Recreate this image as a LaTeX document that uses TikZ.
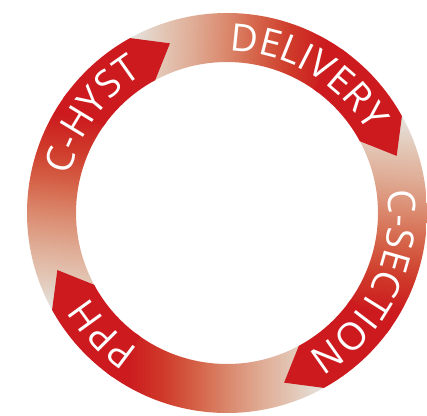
\documentclass[tikz,border=0pt]{standalone}
\usepackage{fontspec}
\setmainfont{Open Sans}
\usetikzlibrary{decorations.text}
\definecolor{ringred}{HTML}{CC1A1E}
\definecolor{ringa}{HTML}{E4E4E0}
\definecolor{ringb}{HTML}{E3C8B8}
\definecolor{ringc}{HTML}{E0B09A}
\definecolor{ringd}{HTML}{DB8D72}
\definecolor{ringe}{HTML}{D5654A}
\definecolor{ringf}{HTML}{CF3A2A}
\pgfdeclarehorizontalshading{ringgrad}{100bp}{color(0bp)=(ringa); color(40.2bp)=(ringa); color(43.2bp)=(ringb); color(46bp)=(ringc); color(49.4bp)=(ringd); color(52.7bp)=(ringe); color(56.3bp)=(ringf); color(59.8bp)=(ringred); color(100bp)=(ringred)}
\newcommand{\ringfont}{\fontsize{38}{38}\selectfont}
\tikzset{
  ringlabel/.style={decorate, decoration={text along path, text align={align=center},
    text={|\ringfont\color{white}|#1}}},
  headfill/.style={fill=ringred, draw=none},
}
\begin{document}
\begin{tikzpicture}[x=1pt,y=1pt]
\useasboundingbox (0,0) rectangle (427,415);
\begin{scope}[shift={(227,202)}]
  % gradient bodies
  \foreach \a/\dir in {29/-3,-61/-95,-151/-180,119/84} {
    \begin{scope}
      \pgfmathsetmacro{\st}{\a+90}
      \pgfmathsetmacro{\en}{\a+24}
      \pgfmathsetmacro{\off}{200*cos(\a+90-\dir)+98}
      \clip (\st:200) arc[start angle=\st, end angle=\en, radius=200] -- (\en:151) arc[start angle=\en, end angle=\st, radius=151] -- cycle;
      \shade[shift={(\dir:\off)}, shading=ringgrad, shading angle=\dir] (-250,-250) rectangle (250,250);
    \end{scope}
  }
  % solid arrow heads
  \foreach \a in {29,-61,-151,119} {
    \pgfmathsetmacro{\st}{\a+26}
    \pgfmathsetmacro{\tip}{\a-10.4}
    \fill[headfill] (\st:200) arc[start angle=\st, end angle=\a, radius=200] -- (\tip:179) -- (\a-0.6:151) arc[start angle=\a-0.6, end angle=\st, radius=151] -- cycle;
  }
  % labels
  \path[ringlabel={DELIVERY}] (109.5:162) arc[start angle=109.5, end angle=9.5, radius=162];
  \path[ringlabel={C-SECTION}] (24:162) arc[start angle=24, end angle=-76, radius=162];
  \path[ringlabel={PPH}] (274:162) arc[start angle=274, end angle=174, radius=162];
  \path[ringlabel={C-HYST}] (194:162) arc[start angle=194, end angle=94, radius=162];
\end{scope}
\end{tikzpicture}
\end{document}
